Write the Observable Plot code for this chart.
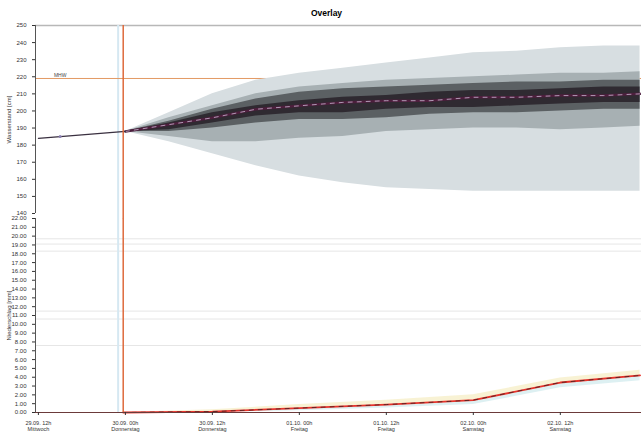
<!DOCTYPE html>
<html><head><meta charset="utf-8">
<script src="https://cdn.jsdelivr.net/npm/d3@7"></script>
<script src="https://cdn.jsdelivr.net/npm/@observablehq/plot@0.6"></script>
<style>
body{margin:0;background:#fff;font-family:"Liberation Sans",Arial,sans-serif;}
#wrap{width:641px;overflow:hidden;}
#title{height:22px;line-height:26px;font-size:8.5px;font-weight:bold;text-align:center;padding-left:12px;box-sizing:border-box;}
svg{display:block;}
</style></head><body>
<div id="wrap"><div id="title">Overlay</div></div>
<script>
// ---- data ----
const fcHours   = [12,18,24,30,36,42,48,54,60,66,72,78,83];
const outerHi   = [188,199,210,218,222,225,228,231,234,235,237,238,238];
const outerLo   = [188,182,175,168,162,158,155,154,153,153,153,153,153];
const midHi     = [188,196,203,210,214,216,218,219,220,221,222,222,223];
const midLo     = [188,185,182,182,184,185,188,189,190,190,189,190,191];
const darkHi    = [188,194,201,207,211,213,214,215,216,217,217,218,218];
const darkLo    = [188,188,190,193,195,195,196,198,199,199,200,201,201];
const coreHi    = [188,193,199,203,206,208,209,211,212,212,213,214,214];
const coreLo    = [188,189,193,197,199,199,201,202,202,203,204,205,205];
const median    = [188,192,196,201,203,205,206,206,208,208,209,209,210];
const obsHours  = [0,3,6,9,12];
const observed  = [184,185,186,187,188];
const thresholdValue = 219;
const thresholdLabel = "MHW";
const nowHour = 11.7;

const rainHours = [11.7,24,36,48,60,72,83];
const rain      = [0,0.1,0.5,0.9,1.4,3.4,4.2];
const rainHi    = [0,0.3,0.9,1.4,2.0,3.9,4.8];
const rainLo    = [0,0,0.2,0.5,0.9,2.8,3.6];
const rainGrid  = [19.7,19.1,18.3,11.5,10.6,7.6];

const xTicks = [0,12,24,36,48,60,72];
const xTickLabels = ["29.09. 12h\nMittwoch","30.09. 00h\nDonnerstag","30.09. 12h\nDonnerstag","01.10. 00h\nFreitag",
                     "01.10. 12h\nFreitag","02.10. 00h\nSamstag","02.10. 12h\nSamstag"];
const topYTicks = d3.range(140,251,10);
const botYTicks = d3.range(0,23,1);

// ---- build tables ----
const fc = fcHours.map((h,i)=>({h, oHi:outerHi[i], oLo:outerLo[i], mHi:midHi[i], mLo:midLo[i],
  dHi:darkHi[i], dLo:darkLo[i], cHi:coreHi[i], cLo:coreLo[i], med:median[i]}));
const obs = obsHours.map((h,i)=>({h, v:observed[i]}));
const rn = rainHours.map((h,i)=>({h, v:rain[i], hi:rainHi[i], lo:rainLo[i]}));

const xDomain = [-0.4, 83.2];
const font = {fontFamily:"Liberation Sans, Arial, sans-serif", fontSize:"6px", color:"#333", background:"transparent", overflow:"visible"};

const topChart = Plot.plot({
  width:641, height:193, marginTop:3, marginBottom:2, marginLeft:35, marginRight:0,
  style:font,
  x:{domain:xDomain, axis:null},
  y:{domain:[140,250], ticks:topYTicks, tickSize:3, label:"Wasserstand [cm]", labelAnchor:"center", labelOffset:29, labelArrow:"none"},
  marks:[
    Plot.ruleY([250], {stroke:"#b8b8b8", strokeWidth:1.5}),
    Plot.ruleX([11.0], {y1:137, y2:250, stroke:"#d6e8f2", strokeWidth:2, clip:false}),
    Plot.ruleY([thresholdValue], {stroke:"#e39a63", strokeWidth:1}),
    Plot.areaY(fc, {x:"h", y1:"oLo", y2:"oHi", fill:"#d7dee1"}),
    Plot.areaY(fc, {x:"h", y1:"mLo", y2:"mHi", fill:"#a7b0b3"}),
    Plot.areaY(fc, {x:"h", y1:"dLo", y2:"dHi", fill:"#5b6063"}),
    Plot.areaY(fc, {x:"h", y1:"cLo", y2:"cHi", fill:"#2f2a31"}),
    Plot.text([thresholdLabel], {x:3, y:thresholdValue, text:d=>d, dy:-3, fontSize:5, fill:"#444"}),
    Plot.line(fc, {x:"h", y:"med", stroke:"#4d1f3d", strokeWidth:2.5}),
    Plot.line(fc, {x:"h", y:"med", stroke:"#c9b6d2", strokeWidth:0.8, strokeDasharray:"4,5"}),
    Plot.line(obs, {x:"h", y:"v", stroke:"#3a3040", strokeWidth:1.2}),
    Plot.dot(obs.slice(1,2), {x:"h", y:"v", r:1.5, fill:"#8a7fb0"}),
    Plot.ruleX([nowHour], {y1:137, y2:250, stroke:"#de6a3c", strokeWidth:1.5, clip:false}),
    Plot.ruleX([xDomain[0]], {stroke:"#555", strokeWidth:1})
  ]
});

const botChart = Plot.plot({
  width:641, height:217, marginTop:3, marginBottom:20, marginLeft:35, marginRight:0,
  style:font,
  x:{domain:xDomain},
  y:{domain:[0,22], ticks:botYTicks, tickSize:3, tickFormat:d3.format(".2f"), label:"Niederschlag [mm]", labelAnchor:"center", labelOffset:29, labelArrow:"none"},
  marks:[
    Plot.ruleY(rainGrid, {stroke:"#e6e6e6"}),
    Plot.ruleX([11.0], {stroke:"#d6e8f2", strokeWidth:2}),
    Plot.areaY(rn, {x:"h", y1:"v", y2:"hi", fill:"#f6efc9", fillOpacity:0.8}),
    Plot.areaY(rn, {x:"h", y1:"lo", y2:"v", fill:"#d5ecef", fillOpacity:0.8}),
    Plot.line(rn, {x:"h", y:"v", stroke:"#e8322a", strokeWidth:1.8}),
    Plot.line(rn, {x:"h", y:"v", stroke:"#402020", strokeWidth:0.8, strokeDasharray:"4,5"}),
    Plot.ruleX([nowHour], {stroke:"#de6a3c", strokeWidth:1.5}),
    Plot.ruleX([xDomain[0]], {stroke:"#555", strokeWidth:1}),
    Plot.ruleY([0], {stroke:"#6b3a3a", strokeWidth:1.2}),
    Plot.axisX({ticks:xTicks, tickSize:3, tickFormat:d=>xTickLabels[xTicks.indexOf(d)], label:null, fontSize:5.5})
  ]
});

document.getElementById("wrap").append(topChart, botChart);
</script>
</body></html>
